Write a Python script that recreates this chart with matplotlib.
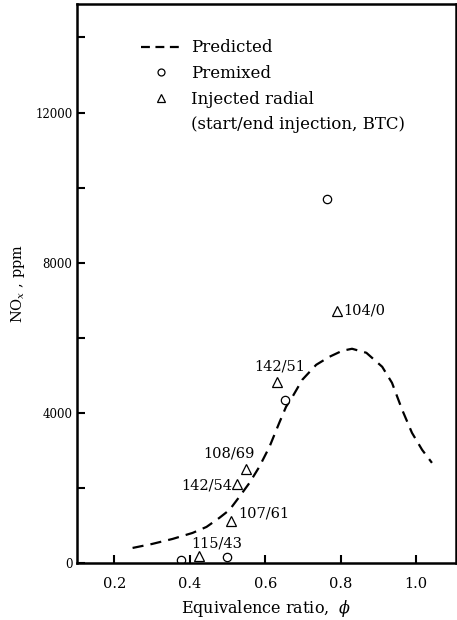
import numpy as np
import matplotlib
matplotlib.use("Agg")
import matplotlib.pyplot as plt
from matplotlib.lines import Line2D

plt.rcParams["font.family"] = ["DejaVu Serif"]
plt.rcParams["mathtext.fontset"] = "dejavuserif"

# predicted curve
pred_phi = [0.248, 0.30, 0.354, 0.407, 0.444, 0.478, 0.505, 0.531, 0.558, 0.584, 0.611,
            0.637, 0.655, 0.672, 0.698, 0.735, 0.77, 0.804, 0.83, 0.868, 0.91, 0.936,
            0.963, 0.989, 1.016, 1.042]
pred_nox = [400, 507, 640, 800, 960, 1200, 1413, 1760, 2133, 2560, 3093,
            3733, 4160, 4427, 4880, 5280, 5493, 5653, 5707, 5600, 5227, 4800,
            4080, 3467, 3013, 2667]

# premixed points
pre_phi = [0.377, 0.499, 0.653, 0.764]
pre_nox = [80, 160, 4350, 9700]

# injected radial points + start/end injection labels
inj_phi = [0.423, 0.51, 0.526, 0.55, 0.632, 0.791]
inj_nox = [190, 1120, 2110, 2510, 4830, 6720]
inj_lab = ["115/43", "107/61", "142/54", "108/69", "142/51", "104/0"]
# label offsets in points (layout only)
lab_off = [(-5, 4), (5, 0), (-4, -6), (-31, 6), (-17, 6), (4, -5)]
lab_ha = ["left", "left", "right", "left", "left", "left"]

fig = plt.figure(figsize=(4.57, 6.2), dpi=100)
ax = fig.add_axes([0.168, 0.092, 0.83, 0.902])

ax.plot(pred_phi, pred_nox, color="black", lw=1.6, dashes=(5, 3.2))
ax.plot(pre_phi, pre_nox, "o", mfc="white", mec="black", ms=6, mew=0.9)
ax.plot(inj_phi, inj_nox, "^", mfc="white", mec="black", ms=7, mew=0.9)

for x, y, t, off, ha in zip(inj_phi, inj_nox, inj_lab, lab_off, lab_ha):
    ax.annotate(t, (x, y), xytext=off, textcoords="offset points",
                ha=ha, va="bottom", fontsize=10.5)

ax.set_xlim(0.1, 1.106)
ax.set_ylim(0, 14900)
ax.set_xticks([0.2, 0.4, 0.6, 0.8, 1.0])
ax.set_xticklabels(["0.2", "0.4", "0.6", "0.8", "1.0"])
ax.set_yticks([0, 4000, 8000, 12000])
ax.set_yticks([2000, 6000, 10000, 14000], minor=True)
ax.tick_params(which="both", direction="in", length=6, width=1.5)
ax.tick_params(axis="x", pad=10, labelsize=10.5)
ax.tick_params(axis="y", pad=3, labelsize=8.5)
for s in ax.spines.values():
    s.set_linewidth(1.8)

ax.set_xlabel(r"Equivalence ratio,  $\phi$", fontsize=11.5, labelpad=5)
ax.set_ylabel(r"NO$_x$ , ppm", fontsize=10.5, labelpad=6)

handles = [
    Line2D([], [], color="black", lw=1.6, dashes=(4, 2.5)),
    Line2D([], [], ls="", marker="o", mfc="white", mec="black", ms=5, mew=0.9),
    Line2D([], [], ls="", marker="^", mfc="white", mec="black", ms=6, mew=0.9),
    Line2D([], [], ls="", marker=""),
]
labels = ["Predicted", "Premixed", "Injected radial", "(start/end injection, BTC)"]
ax.legend(handles, labels, loc="upper left", bbox_to_anchor=(0.135, 0.96), frameon=False,
          fontsize=12, handlelength=2.4, handletextpad=0.6, labelspacing=0.52,
          borderpad=0.3)

fig.savefig("out.png", dpi=100)
